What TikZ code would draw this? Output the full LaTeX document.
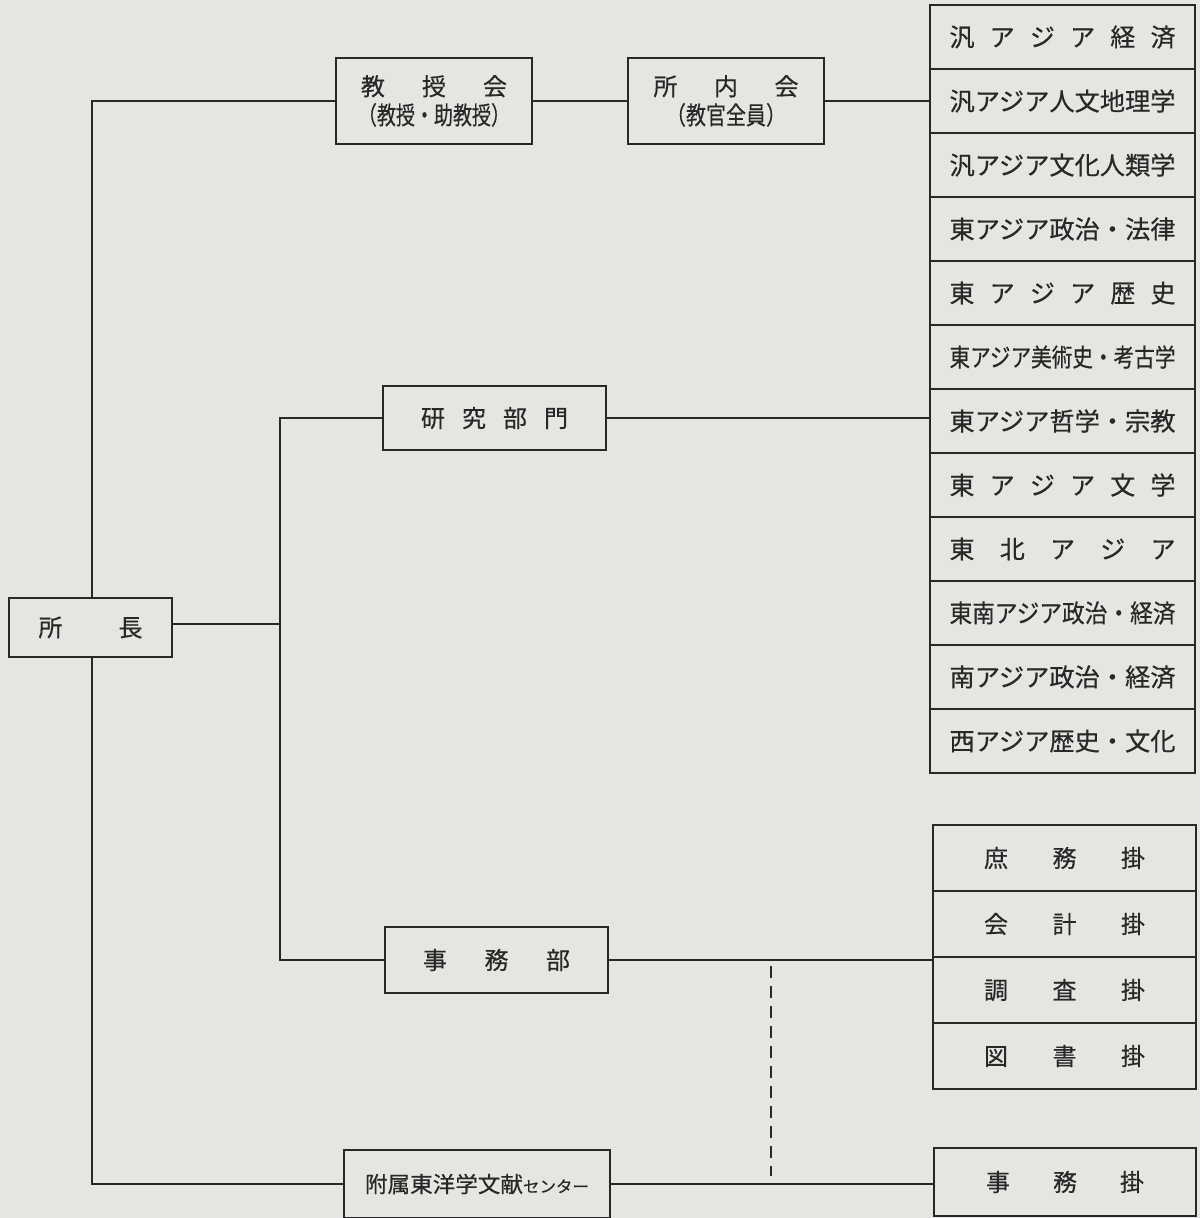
\documentclass[tikz,border=0pt]{standalone}
\usepackage{fontspec}
\setmainfont{Noto Sans CJK JP}[FakeBold=0.5]
\usepackage{graphicx}
\definecolor{bg}{RGB}{228,231,225}
\definecolor{ink}{RGB}{40,40,40}
\newcommand{\sz}[1]{\fontsize{#1}{#1}\selectfont}
\newcommand{\spread}[2]{\makebox[#1][s]{#2}}
\newcommand{\fitw}[2]{\resizebox{#1}{\height}{#2}}
\begin{document}
\begin{tikzpicture}[x=1pt,y=-1pt,
  box/.style={draw=ink, line width=2pt, rectangle, inner sep=0pt, text=ink, font=\sz{24}},
  lrow/.style={box, minimum width=265pt, minimum height=64pt, font=\sz{25}},
  srow/.style={box, minimum width=263pt, minimum height=66pt, font=\sz{24}},
  conn/.style={draw=ink, line width=1.4pt},
  dconn/.style={conn, dash pattern=on 12pt off 8pt}]
\fill[bg] (0,0) rectangle (1200,1218);
\useasboundingbox (0,0) rectangle (1200,1218);

% upper boxes
\node[box, minimum width=196pt, minimum height=86pt, align=center] (kyo) at (434,101)
  {\spread{146pt}{教\hfill 授\hfill 会}\\[5pt]{\sz{25}\fitw{152pt}{（教授・助教授）}}};
\node[box, minimum width=196pt, minimum height=86pt, align=center] (shonai) at (726,101)
  {\spread{145pt}{所\hfill 内\hfill 会}\\[5pt]{\sz{25}\fitw{120pt}{（教官全員）}}};

% research list
\node[lrow] (r1) at (1062.5,37) {\spread{226pt}{汎\hfill ア\hfill ジ\hfill ア\hfill 経\hfill 済}};
\node[lrow] (r2) at (1062.5,101) {\fitw{226pt}{汎アジア人文地理学}};
\node[lrow] (r3) at (1062.5,165) {\fitw{226pt}{汎アジア文化人類学}};
\node[lrow] (r4) at (1062.5,229) {\fitw{226pt}{東アジア政治・法律}};
\node[lrow] (r5) at (1062.5,293) {\spread{226pt}{東\hfill ア\hfill ジ\hfill ア\hfill 歴\hfill 史}};
\node[lrow] (r6) at (1062.5,357) {\fitw{226pt}{東アジア美術史・考古学}};
\node[lrow] (r7) at (1062.5,421) {\fitw{226pt}{東アジア哲学・宗教}};
\node[lrow] (r8) at (1062.5,485) {\spread{226pt}{東\hfill ア\hfill ジ\hfill ア\hfill 文\hfill 学}};
\node[lrow] (r9) at (1062.5,549) {\spread{226pt}{東\hfill 北\hfill ア\hfill ジ\hfill ア}};
\node[lrow] (r10) at (1062.5,613) {\fitw{226pt}{東南アジア政治・経済}};
\node[lrow] (r11) at (1062.5,677) {\fitw{226pt}{南アジア政治・経済}};
\node[lrow] (r12) at (1062.5,741) {\fitw{226pt}{西アジア歴史・文化}};

% director
\node[box, minimum width=163pt, minimum height=59pt] (shocho) at (90.5,627.5)
  {\spread{104pt}{所\hfill 長}};

% middle boxes
\node[box, minimum width=223pt, minimum height=64pt] (kenkyu) at (494.5,418)
  {\spread{147pt}{研\hfill 究\hfill 部\hfill 門}};
\node[box, minimum width=223pt, minimum height=66pt] (jimubu) at (496.5,960)
  {\spread{147pt}{事\hfill 務\hfill 部}};
\node[box, minimum width=266pt, minimum height=68pt] (fuzoku) at (477,1184)
  {{\sz{22}\fitw{158pt}{附属東洋学文献}}{\sz{16}\fitw{66pt}{センター}}};

% office list
\node[srow] (s1) at (1064.5,858) {\spread{161pt}{庶\hfill 務\hfill 掛}};
\node[srow] (s2) at (1064.5,924) {\spread{161pt}{会\hfill 計\hfill 掛}};
\node[srow] (s3) at (1064.5,990) {\spread{161pt}{調\hfill 査\hfill 掛}};
\node[srow] (s4) at (1064.5,1056) {\spread{161pt}{図\hfill 書\hfill 掛}};
\node[box, minimum width=262pt, minimum height=68pt] (jimugakari) at (1065,1182)
  {\spread{158pt}{事\hfill 務\hfill 掛}};

% coordinates
\coordinate (vx) at (92,0);
\coordinate (jx) at (280,624);
\coordinate (d1) at (771,966);
\coordinate (d2) at (771,1176);

% connectors
\draw[conn] (kyo.east) -- (shonai.west);
\draw[conn] (shonai.east) -- (shonai.east -| r2.west);
\draw[conn] (kyo.west) -| (vx |- shocho.north);
\draw[conn] (vx |- shocho.south) |- (fuzoku.west);
\draw[conn] (shocho.east |- jx) -- (jx);
\draw[conn] (kenkyu.west) -| (jx) |- (jimubu.west);
\draw[conn] (kenkyu.east) -- (kenkyu.east -| r7.west);
\draw[conn] (jimubu.east) -- (jimubu.east -| s3.west);
\draw[conn] (fuzoku.east) -- (fuzoku.east -| jimugakari.west);
\draw[dconn] (d1) -- (d2);
\end{tikzpicture}
\end{document}
